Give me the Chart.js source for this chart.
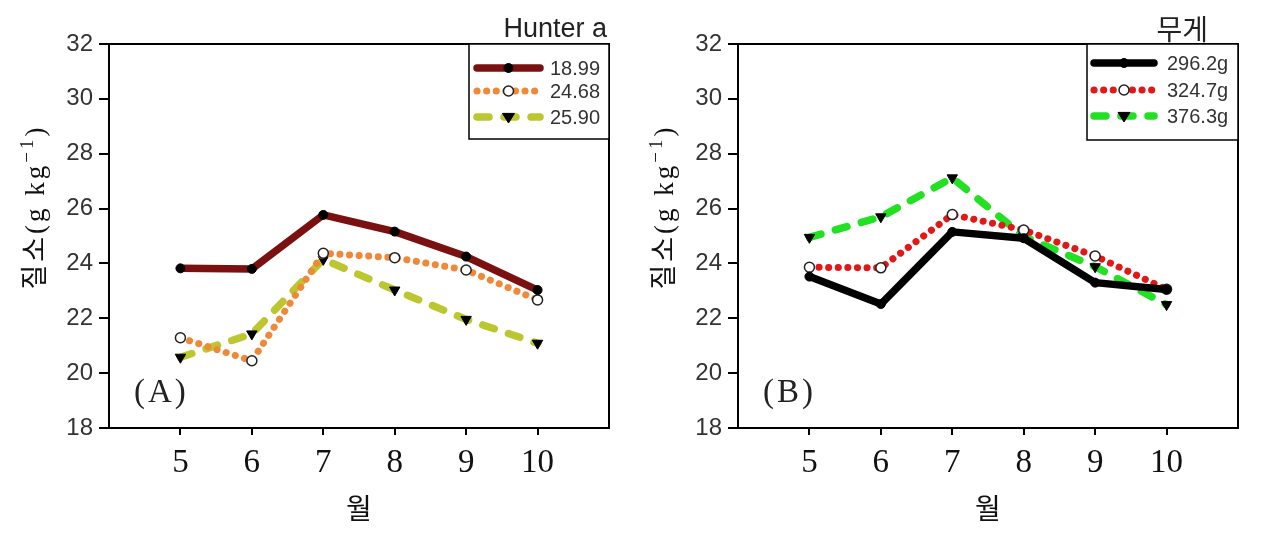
<!DOCTYPE html>
<html>
<head>
<meta charset="utf-8">
<script src="https://cdn.jsdelivr.net/npm/chart.js@4.4.1/dist/chart.umd.min.js"></script>
<style>
body { margin: 0; background: #fff; }
#wrap { position: relative; width: 1282px; height: 544px; }
canvas { position: absolute; top: 0; }
#chartA { left: 0; }
#chartB { left: 629px; }
</style>
</head>
<body>
<div id="wrap">
<canvas id="chartA" width="640" height="544"></canvas>
<canvas id="chartB" width="640" height="544"></canvas>
</div>
<script>
const months = [5, 6, 7, 8, 9, 10];
const yTicks = [18, 20, 22, 24, 26, 28, 30, 32];

// (A) Hunter a
const hunterLabels = ['18.99', '24.68', '25.90'];
const hunter1899 = [23.82, 23.80, 25.77, 25.16, 24.25, 23.03];
const hunter2468 = [21.29, 20.45, 24.37, 24.21, 23.76, 22.67];
const hunter2590 = [20.58, 21.43, 24.15, 23.03, 21.96, 21.09];

// (B) weight
const weightLabels = ['296.2g', '324.7g', '376.3g'];
const weight2962 = [23.52, 22.52, 25.15, 24.92, 23.30, 23.05];
const weight3247 = [23.86, 23.84, 25.78, 25.22, 24.27, 23.06];
const weight3763 = [24.95, 25.70, 27.12, 24.98, 23.88, 22.50];

const toPoints = vals => months.map((m, i) => ({ x: m, y: vals[i] }));

function solidSet(label, vals, color) {
    return {
        label: label, data: toPoints(vals),
        borderColor: color, borderWidth: 7.5, borderCapStyle: 'round', borderJoinStyle: 'round',
        pointStyle: 'circle', pointRadius: 4.5, pointBackgroundColor: '#000', pointBorderColor: '#000', pointBorderWidth: 1
    };
}
function dottedSet(label, vals, color) {
    return {
        label: label, data: toPoints(vals),
        borderColor: color, borderWidth: 7, borderCapStyle: 'round', borderDash: [0.1, 9.5],
        pointStyle: 'circle', pointRadius: 5, pointBackgroundColor: '#fff', pointBorderColor: '#222', pointBorderWidth: 1.5
    };
}
function dashedSet(label, vals, color) {
    return {
        label: label, data: toPoints(vals),
        borderColor: color, borderWidth: 7.5, borderCapStyle: 'round', borderDash: [12, 15],
        pointStyle: 'triangle', pointRotation: 180, pointRadius: 6, pointBackgroundColor: '#000', pointBorderColor: '#000', pointBorderWidth: 1
    };
}

function marker(ctx, ds, x, y) {
    ctx.save();
    ctx.fillStyle = ds.pointBackgroundColor;
    ctx.strokeStyle = ds.pointBorderColor;
    ctx.lineWidth = ds.pointBorderWidth;
    ctx.setLineDash([]);
    ctx.beginPath();
    if (ds.pointStyle === 'triangle') {
        const r = ds.pointRadius;
        ctx.moveTo(x - r, y - r * 0.6);
        ctx.lineTo(x + r, y - r * 0.6);
        ctx.lineTo(x, y + r);
        ctx.closePath();
    } else {
        ctx.arc(x, y, ds.pointRadius, 0, Math.PI * 2);
    }
    ctx.fill();
    ctx.stroke();
    ctx.restore();
}

// draws text pieces one after another: [text, font, raise]
function drawPieces(ctx, pieces, x, y) {
    let total = 0;
    pieces.forEach(p => { ctx.font = p[1]; total += ctx.measureText(p[0]).width; });
    let cx = x - total / 2;
    ctx.textAlign = 'left';
    pieces.forEach(p => {
        ctx.font = p[1];
        ctx.fillText(p[0], cx, y - p[2]);
        cx += ctx.measureText(p[0]).width;
    });
}

const decor = {
    id: 'decor',
    afterDatasetsDraw(chart, args, o) {
        const ctx = chart.ctx, a = chart.chartArea;
        ctx.save();
        // frame
        ctx.strokeStyle = '#000';
        ctx.lineWidth = 2;
        ctx.strokeRect(a.left, a.top, a.right - a.left, a.bottom - a.top);

        // legend box
        const x0 = a.right - o.boxW, y0 = a.top;
        ctx.fillStyle = '#fff';
        ctx.fillRect(x0, y0, o.boxW, o.boxH);
        ctx.lineWidth = 1.5;
        ctx.strokeRect(x0, y0, o.boxW, o.boxH);
        chart.data.datasets.forEach((ds, i) => {
            const y = y0 + o.rows[i];
            const xs = x0 + o.lineX, xe = xs + o.lineLen;
            ctx.save();
            ctx.setLineDash(ds.borderDash || []);
            ctx.lineCap = 'round';
            ctx.strokeStyle = ds.borderColor;
            ctx.lineWidth = ds.borderWidth;
            ctx.beginPath();
            ctx.moveTo(xs, y);
            ctx.lineTo(xe, y);
            ctx.stroke();
            ctx.restore();
            marker(ctx, ds, (xs + xe) / 2, y);
            ctx.fillStyle = '#333';
            ctx.font = '20px "Liberation Sans", Arial, sans-serif';
            ctx.textAlign = 'left';
            ctx.textBaseline = 'middle';
            ctx.fillText(ds.label, x0 + o.textX, y + 1);
        });

        // legend title above plot
        ctx.fillStyle = '#222';
        ctx.font = o.titleFont;
        ctx.textAlign = 'right';
        ctx.textBaseline = 'alphabetic';
        ctx.fillText(o.title, a.right + o.titleDx, o.titleY);

        // panel letter
        ctx.fillStyle = '#222';
        ctx.font = '33px "Liberation Serif", serif';
        ctx.letterSpacing = '3px';
        ctx.textAlign = 'left';
        ctx.textBaseline = 'middle';
        ctx.fillText(o.panel, a.left + 25, 393);

        // y axis title
        ctx.translate(35, 207);
        ctx.rotate(-Math.PI / 2);
        ctx.letterSpacing = '3px';
        ctx.textBaseline = 'middle';
        ctx.fillStyle = '#111';
        const f = '"Liberation Serif", "Noto Sans CJK KR", serif';
        drawPieces(ctx, [
            ['질소(g kg', '27px ' + f, 0],
            ['−1', '19px ' + f, 9],
            [')', '27px ' + f, 0]
        ], 0, 2);
        ctx.restore();
    }
};

function makeChart(id, datasets, deco) {
    return new Chart(document.getElementById(id), {
        type: 'line',
        data: { datasets: datasets },
        options: {
            responsive: false,
            animation: false,
            devicePixelRatio: 1,
            layout: { padding: { left: 0, right: 31, top: 44, bottom: 0 } },
            plugins: {
                legend: { display: false },
                tooltip: { enabled: false },
                decor: deco
            },
            scales: {
                x: {
                    type: 'linear', min: 4, max: 11,
                    afterBuildTicks: s => { s.ticks = months.map(v => ({ value: v })); },
                    afterFit: s => { s.height = 116; },
                    grid: { drawOnChartArea: false, tickLength: 7, color: '#000', lineWidth: 2 },
                    border: { color: '#000', width: 2 },
                    ticks: { font: { family: '"Liberation Serif", serif', size: 33 }, color: '#111', padding: 9, maxRotation: 0 },
                    title: { display: true, text: '월', font: { family: '"Noto Sans CJK KR", sans-serif', size: 28 }, color: '#111', padding: { top: 0, bottom: 19 } }
                },
                y: {
                    min: 18, max: 32,
                    afterBuildTicks: s => { s.ticks = yTicks.map(v => ({ value: v })); },
                    afterFit: s => { s.width = 109; },
                    grid: { drawOnChartArea: false, tickLength: 10, color: '#000', lineWidth: 2 },
                    border: { color: '#000', width: 2 },
                    ticks: { font: { family: '"Liberation Sans", Arial, sans-serif', size: 24 }, color: '#333', padding: 6 }
                }
            }
        },
        plugins: [decor]
    });
}

makeChart('chartA', [
    solidSet(hunterLabels[0], hunter1899, '#7a1010'),
    dottedSet(hunterLabels[1], hunter2468, '#f0883a'),
    dashedSet(hunterLabels[2], hunter2590, '#bcc62e')
], {
    boxW: 140, boxH: 95, rows: [24, 47, 73], lineX: 8, lineLen: 63, textX: 81,
    title: 'Hunter a', titleFont: '27px "Liberation Sans", Arial, sans-serif', titleDx: -2, titleY: 37,
    panel: '(A)'
});

makeChart('chartB', [
    solidSet(weightLabels[0], weight2962, '#000'),
    dottedSet(weightLabels[1], weight3247, '#e01818'),
    dashedSet(weightLabels[2], weight3763, '#22e022')
], {
    boxW: 151, boxH: 96, rows: [19, 46, 72], lineX: 7, lineLen: 60, textX: 80,
    title: '무게', titleFont: '28px "Noto Sans CJK KR", sans-serif', titleDx: -30, titleY: 40,
    panel: '(B)'
});
</script>
</body>
</html>
